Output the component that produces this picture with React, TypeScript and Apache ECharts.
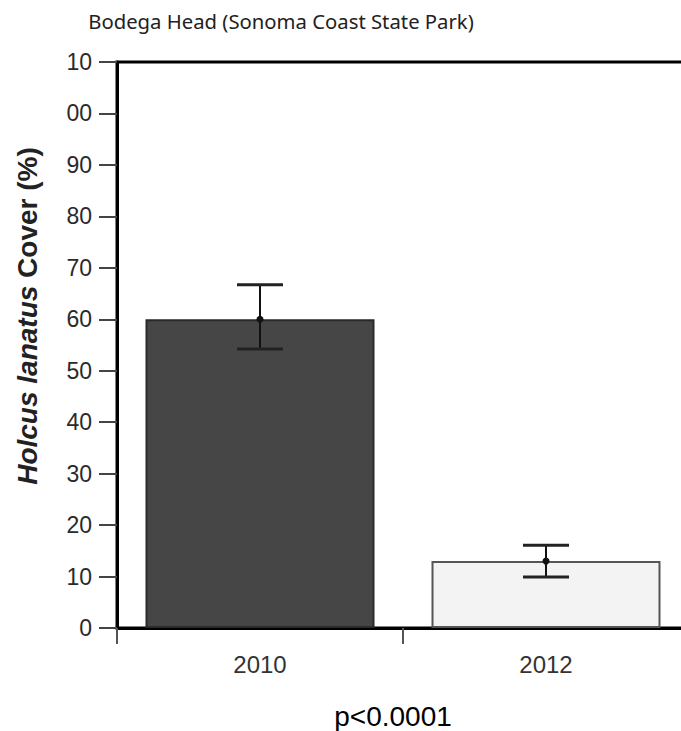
import React, { useEffect, useRef } from "react";
import * as echarts from "echarts";

const categories = ["2010", "2012"];
const means = [60, 13];
const errLow = [54.2, 9.9];
const errHigh = [66.7, 16.1];
const barColors = ["#464646", "#f3f3f3"];
const barBorders = ["#2a2a2a", "#555555"];

export default function App() {
  const ref = useRef<HTMLDivElement>(null);
  useEffect(() => {
    if (!ref.current) return;
    const chart = echarts.init(ref.current, null, { renderer: "svg" });
    const errData = categories.map((c, i) => [i, errLow[i], errHigh[i], means[i]]);
    chart.setOption({
      animation: false,
      backgroundColor: "#ffffff",
      title: {
        text: "Bodega Head (Sonoma Coast State Park)",
        left: 276,
        top: 6,
        textAlign: "center",
        textStyle: {
          fontFamily: "Noto Sans",
          fontWeight: "normal",
          fontSize: 20.3,
          color: "#222",
        },
      },
      grid: {
        left: 117,
        top: 62,
        bottom: 103,
        right: 11,
        show: true,
        borderColor: "#000",
        borderWidth: 3,
      },
      xAxis: {
        type: "category",
        data: categories,
        axisLine: { show: true, lineStyle: { color: "#000", width: 3 } },
        axisTick: { show: true, length: 16, lineStyle: { color: "#555", width: 2 } },
        axisLabel: {
          margin: 24,
          fontFamily: "Liberation Sans",
          fontSize: 24,
          color: "#333",
        },
      },
      yAxis: {
        type: "value",
        min: 0,
        max: 110,
        interval: 10,
        splitLine: { show: false },
        axisLine: { show: true, lineStyle: { color: "#000", width: 3 } },
        axisTick: { show: true, length: 18, lineStyle: { color: "#444", width: 2 } },
        axisLabel: {
          margin: 25,
          fontFamily: "Liberation Sans",
          fontSize: 23,
          color: "#2a2a2a",
          formatter: (v: number) => (v === 0 ? "0" : String(v % 100).padStart(2, "0")),
        },
      },
      series: [
        {
          type: "bar",
          barWidth: 229,
          data: means.map((m, i) => ({
            value: m,
            itemStyle: {
              color: barColors[i],
              borderColor: barBorders[i],
              borderWidth: 2,
            },
          })),
        },
        {
          type: "custom",
          data: errData,
          z: 10,
          renderItem: (params: any, api: any) => {
            const x = api.value(0);
            const lo = api.coord([x, api.value(1)]);
            const hi = api.coord([x, api.value(2)]);
            const mid = api.coord([x, api.value(3)]);
            const hw = 23;
            const style = { stroke: "#111", lineWidth: 2 };
            return {
              type: "group",
              children: [
                { type: "line", shape: { x1: hi[0], y1: hi[1], x2: lo[0], y2: lo[1] }, style },
                { type: "line", shape: { x1: hi[0] - hw, y1: hi[1], x2: hi[0] + hw, y2: hi[1] }, style: { stroke: "#222", lineWidth: 3 } },
                { type: "line", shape: { x1: lo[0] - hw, y1: lo[1], x2: lo[0] + hw, y2: lo[1] }, style: { stroke: "#222", lineWidth: 3 } },
                { type: "circle", shape: { cx: mid[0], cy: mid[1], r: 3.5 }, style: { fill: "#111" } },
              ],
            };
          },
        },
      ],
      graphic: [
        {
          type: "text",
          x: 27,
          y: 316,
          rotation: Math.PI / 2,
          style: {
            text: "{a|Holcus lanatus }{b|Cover (%)}",
            align: "center",
            verticalAlign: "middle",
            rich: {
              a: {
                fontFamily: "Liberation Sans",
                fontWeight: "bold",
                fontStyle: "italic",
                fontSize: 28,
                fill: "#222",
              },
              b: {
                fontFamily: "Liberation Sans",
                fontWeight: "bold",
                fontSize: 28,
                fill: "#222",
              },
            },
          },
        },
        {
          type: "text",
          x: 393,
          y: 716,
          style: {
            text: "p<0.0001",
            align: "center",
            verticalAlign: "middle",
            fontFamily: "Liberation Sans",
            fontSize: 28,
            fill: "#000",
          },
        },
      ],
    });
    return () => chart.dispose();
  }, []);
  return (
    <div style={{ position: "fixed", left: 0, top: 0, width: 681, height: 731, overflow: "hidden" }}>
      <div ref={ref} style={{ width: 700, height: 731 }} />
    </div>
  );
}
